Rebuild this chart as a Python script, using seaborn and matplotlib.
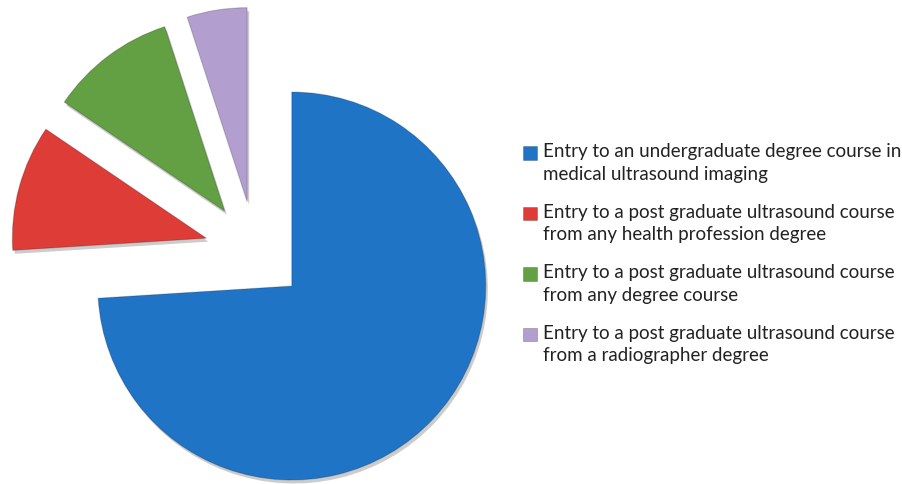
import numpy as np
import matplotlib
matplotlib.use("Agg")
import matplotlib.pyplot as plt
import matplotlib.patheffects as pe
import seaborn as sns

# Share of respondents preferring each entry route into ultrasound training
categories = [
    "Entry to an undergraduate degree course in\nmedical ultrasound imaging",
    "Entry to a post graduate ultrasound course\nfrom any health profession degree",
    "Entry to a post graduate ultrasound course\nfrom any degree course",
    "Entry to a post graduate ultrasound course\nfrom a radiographer degree",
]
shares = [74, 10.5, 10.5, 5]
colors = ["#1f74c6", "#dd3c37", "#62a043", "#b29fcf"]

sns.set_theme(style="white")
plt.rcParams["font.family"] = ["Lato", "DejaVu Sans"]

W, H = 903, 484
fig = plt.figure(figsize=(W / 100, H / 100), dpi=100)
ax = fig.add_axes([0, 0, 1, 1])

cx, cy, r = 255, 232.5, 194
# every slice is pulled out from the centre by a quarter of the radius
pull = 0.26 * r
wedges, _ = ax.pie(
    shares,
    explode=[pull] * len(shares),
    colors=colors,
    radius=r,
    center=(cx, cy),
    startangle=90,
    counterclock=False,
    wedgeprops=dict(linewidth=0.8, edgecolor="#00000030"),
)
for w in wedges:
    w.set_path_effects([
        pe.SimplePatchShadow(offset=(1.5, -2.5), shadow_rgbFace="#000000", alpha=0.2),
        pe.Normal(),
    ])

ax.set_xlim(0, W)
ax.set_ylim(0, H)
ax.set_aspect("equal")
ax.axis("off")

fs = 13.5
leg = ax.legend(
    wedges,
    categories,
    loc="upper left",
    bbox_to_anchor=(523 / W, 1 - 143 / H),
    bbox_transform=fig.transFigure,
    frameon=False,
    fontsize=fs,
    handlelength=0.75,
    handleheight=0.75,
    handletextpad=0.3,
    labelspacing=1.1,
    borderpad=0,
    borderaxespad=0,
)
for t in leg.get_texts():
    t.set_color("#222222")
    t.set_linespacing(1.42)
# square keys sit beside the first line of each label
for h in leg.legend_handles:
    h.set_path_effects([])
    h.set_edgecolor("#00000040")
    h.set_linewidth(0.6)
    h.set_y(h.get_y() + 0.56 * fs)

fig.savefig("out.png", dpi=100)
